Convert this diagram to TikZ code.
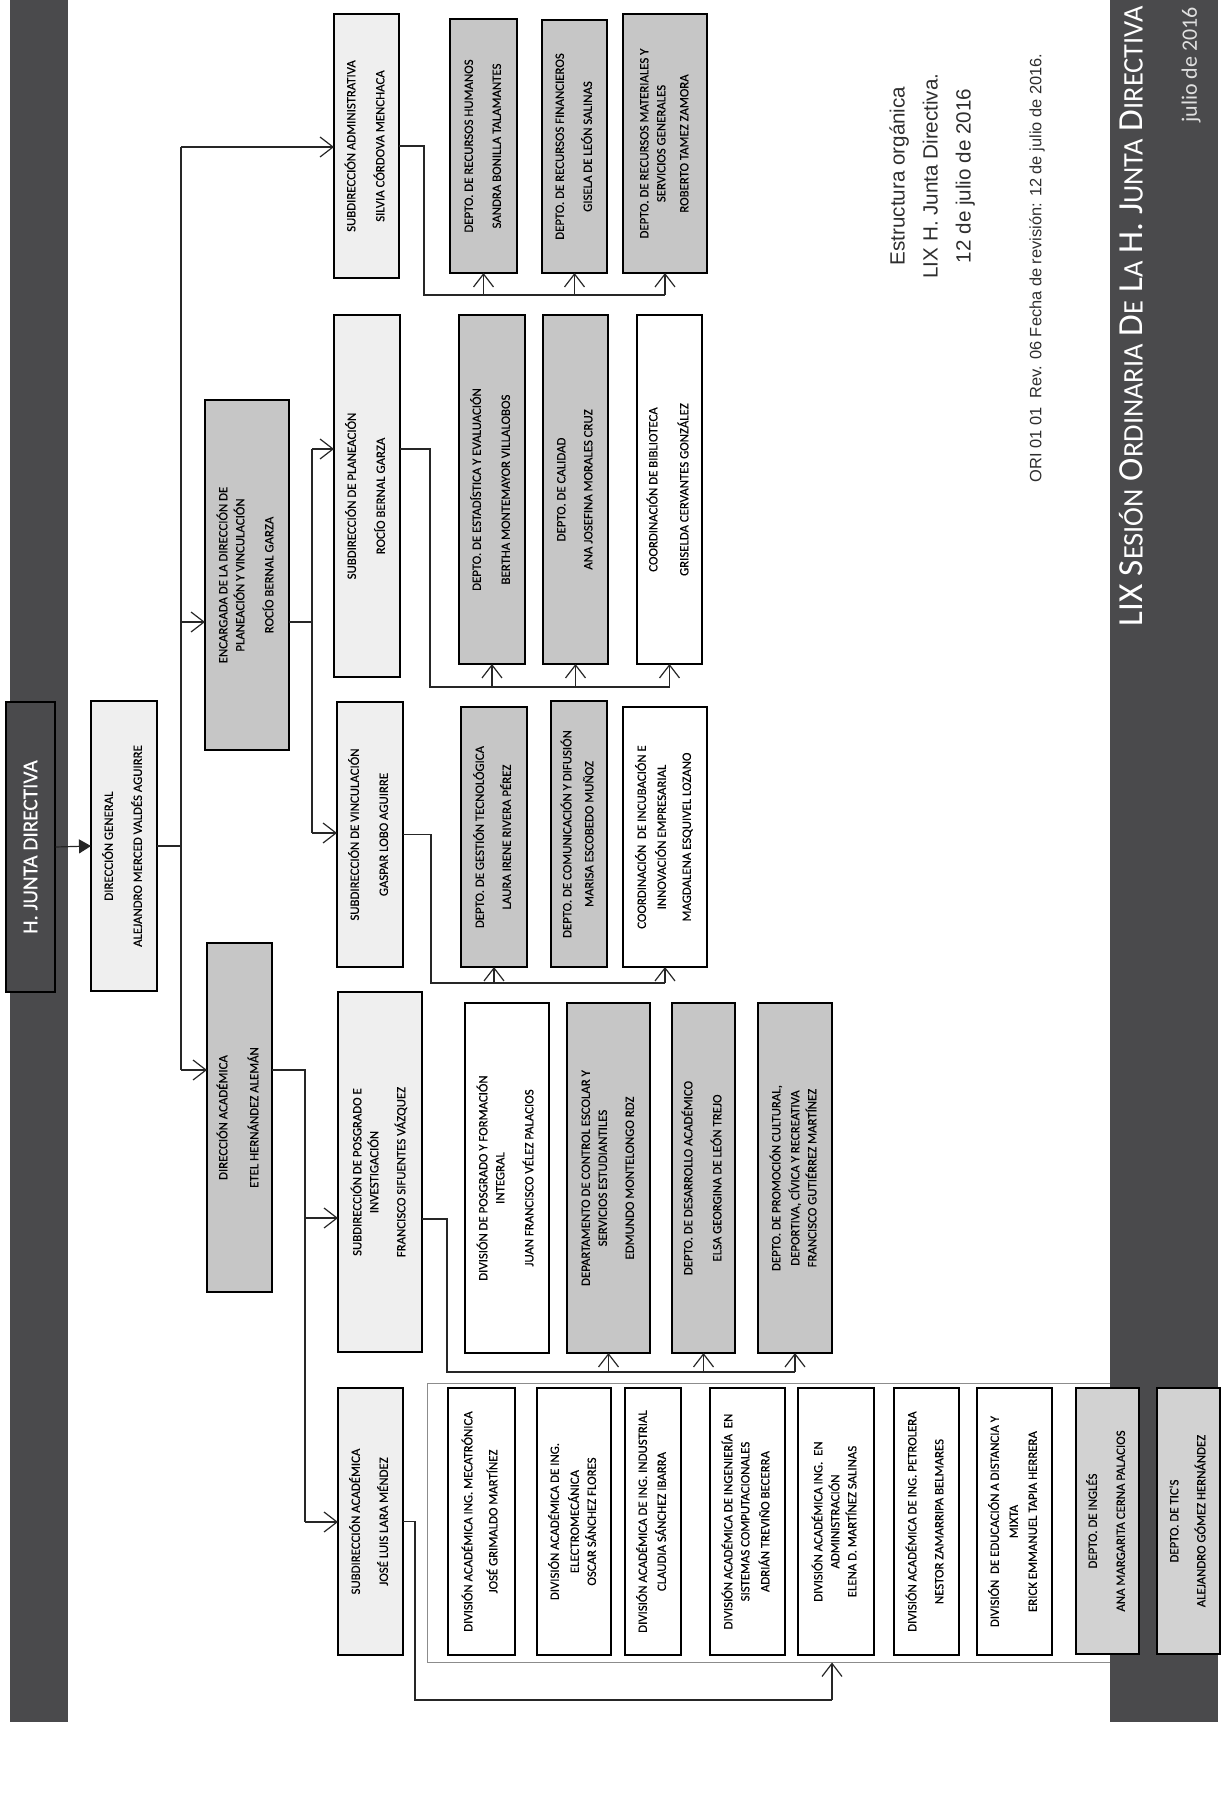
\documentclass[tikz,border=0pt]{standalone}
\usepackage{fontspec}
\setmainfont{Carlito}
\newfontfamily\arialf{Liberation Sans}
\newfontfamily\boxf[FakeBold=0.35]{Carlito}
\usetikzlibrary{arrows.meta,calc}
\definecolor{bargray}{HTML}{4A4A4C}
\definecolor{boxgray}{HTML}{C6C6C6}
\definecolor{boxlight}{HTML}{EFEFEF}
\definecolor{boxmid}{HTML}{D2D2D2}
\definecolor{txtgray}{HTML}{2E2E2E}
\newcommand\bxfont{\boxf\fontsize{6.4}{8.5}\selectfont}
\newcommand\obox[7]{%
  \node[#1, minimum width={(#5-#3)*0.5pt}, minimum height={(#6-#4)*0.5pt}] (#2)
    at ({(#3+#5)/2},{(#4+#6)/2}) {\rotatebox{90}{\bxfont\begin{tabular}{@{}c@{}}#7\end{tabular}}};}
\newcommand\smcp[1]{{\fontsize{14.5}{16}\selectfont #1}}
\begin{document}
\begin{tikzpicture}[x=0.5pt,y=-0.5pt,
  ob/.style={draw=black, line width=0.8pt, inner sep=0pt, outer sep=0pt, text=black},
  gr/.style={ob, fill=boxgray},
  lt/.style={ob, fill=boxlight},
  wh/.style={ob, fill=white},
  md/.style={ob, fill=boxmid},
  ln/.style={line width=0.6pt, draw=black!85},
  arr/.style={ln, -{Straight Barb[length=6.5pt,width=10pt]}}]
\useasboundingbox (0,0) rectangle (1223,1818);
\fill[white] (0,0) rectangle (1223,1818);

% container of academic divisions
\node[draw=black!45, line width=0.5pt, minimum width={(1115-427)*0.5pt}, minimum height={(1662-1383)*0.5pt}, inner sep=0pt] (cont) at ({(427+1115)/2},{(1383+1662)/2}) {};

% side bars
\fill[bargray] (10,0) rectangle (68,1722);
\fill[bargray] (1110,0) rectangle (1218,1722);

% H. Junta Directiva
\node[draw=black, line width=0.6pt, fill=bargray, text=white, inner sep=0pt,
  minimum width={(55-6)*0.5pt}, minimum height={(992-702)*0.5pt}] (hj) at (30.5,847)
  {\rotatebox{90}{\boxf\fontsize{10.6}{12}\selectfont H. JUNTA DIRECTIVA}};

% level 1-2
\obox{lt}{dg}{91}{701}{157}{991}{DIRECCIÓN GENERAL\\[6pt]ALEJANDRO MERCED VALDÉS AGUIRRE}
\obox{gr}{enc}{205}{400}{289}{750}{ENCARGADA DE LA DIRECCIÓN DE\\PLANEACIÓN Y VINCULACIÓN\\[6pt]ROCÍO BERNAL GARZA}
\obox{gr}{dac}{207}{943}{272}{1292}{DIRECCIÓN ACADÉMICA\\[7pt]ETEL HERNÁNDEZ ALEMÁN}

% subdirecciones
\obox{lt}{sadm}{334}{14}{399}{278}{SUBDIRECCIÓN ADMINISTRATIVA\\[6pt]SILVIA CÓRDOVA MENCHACA}
\obox{lt}{spla}{334}{315}{400}{677}{SUBDIRECCIÓN DE PLANEACIÓN\\[6pt]ROCÍO BERNAL GARZA}
\obox{lt}{svin}{337}{702}{403}{967}{SUBDIRECCIÓN DE VINCULACIÓN\\[6pt]GASPAR LOBO AGUIRRE}
\obox{lt}{spos}{338}{992}{422}{1352}{SUBDIRECCIÓN DE POSGRADO E\\INVESTIGACIÓN\\[5pt]FRANCISCO SIFUENTES VÁZQUEZ}
\obox{lt}{sac}{338}{1388}{403}{1655}{SUBDIRECCIÓN ACADÉMICA\\[5.5pt]JOSÉ LUIS LARA MÉNDEZ}

% administrativa
\obox{gr}{rh}{450}{19}{517}{273}{DEPTO. DE RECURSOS HUMANOS\\[5.5pt]SANDRA BONILLA TALAMANTES}
\obox{gr}{rf}{542}{20}{607}{273}{DEPTO. DE RECURSOS FINANCIEROS\\[5.5pt]GISELA DE LEÓN SALINAS}
\obox{gr}{rm}{623}{14}{707}{273}{DEPTO. DE RECURSOS MATERIALES Y\\SERVICIOS GENERALES\\[3pt]ROBERTO TAMEZ ZAMORA}

% planeacion
\obox{gr}{est}{459}{315}{525}{664}{DEPTO. DE ESTADÍSTICA Y EVALUACIÓN\\[6pt]BERTHA MONTEMAYOR VILLALOBOS}
\obox{gr}{cal}{543}{315}{608}{664}{DEPTO. DE CALIDAD\\[5pt]ANA JOSEFINA MORALES CRUZ}
\obox{wh}{bib}{637}{315}{702}{664}{COORDINACIÓN DE BIBLIOTECA\\[7pt]GRISELDA CERVANTES GONZÁLEZ}

% vinculacion
\obox{gr}{ges}{461}{707}{527}{967}{DEPTO. DE GESTIÓN TECNOLÓGICA\\[5pt]LAURA IRENE RIVERA PÉREZ}
\obox{gr}{com}{551}{701}{607}{967}{DEPTO. DE COMUNICACIÓN Y DIFUSIÓN\\[2.5pt]MARISA ESCOBEDO MUÑOZ}
\obox{wh}{inc}{623}{707}{707}{967}{COORDINACIÓN\ \ DE INCUBACIÓN E\\[1.5pt]INNOVACIÓN EMPRESARIAL\\[4pt]MAGDALENA ESQUIVEL LOZANO}

% posgrado
\obox{wh}{dpos}{465}{1003}{549}{1353}{DIVISIÓN DE POSGRADO Y FORMACIÓN\\INTEGRAL\\[6pt]JUAN FRANCISCO VÉLEZ PALACIOS}
\obox{gr}{ces}{567}{1003}{650}{1353}{DEPARTAMENTO DE CONTROL ESCOLAR Y\\SERVICIOS ESTUDIANTILES\\[5pt]EDMUNDO MONTELONGO RDZ}
\obox{gr}{dea}{672}{1003}{735}{1353}{DEPTO. DE DESARROLLO ACADÉMICO\\[6pt]ELSA GEORGINA DE LEÓN TREJO}
\obox{gr}{pro}{758}{1003}{832}{1353}{DEPTO. DE PROMOCIÓN CULTURAL,\\[1pt]DEPORTIVA, CÍVICA Y RECREATIVA\\FRANCISCO GUTIÉRREZ MARTÍNEZ}

% divisiones academicas
\obox{wh}{d1}{448}{1388}{515}{1655}{DIVISIÓN ACADÉMICA ING. MECATRÓNICA\\[4pt]JOSÉ GRIMALDO MARTÍNEZ}
\obox{wh}{d2}{537}{1388}{611}{1655}{DIVISIÓN ACADÉMICA DE ING.\\[1.5pt]ELECTROMECÁNICA\\OSCAR SÁNCHEZ FLORES}
\obox{wh}{d3}{625}{1388}{681}{1655}{DIVISIÓN ACADÉMICA DE ING. INDUSTRIAL\\[1pt]CLAUDIA SÁNCHEZ IBARRA}
\obox{wh}{d4}{710}{1388}{785}{1655}{DIVISIÓN ACADÉMICA DE INGENIERÍA\ \ EN\\SISTEMAS COMPUTACIONALES\\[1.5pt]ADRIÁN TREVIÑO BECERRA}
\obox{wh}{d5}{798}{1388}{874}{1655}{DIVISIÓN ACADÉMICA ING.\ \ EN\\ADMINISTRACIÓN\\ELENA D. MARTÍNEZ SALINAS}
\obox{wh}{d6}{894}{1388}{959}{1655}{DIVISIÓN ACADÉMICA DE ING. PETROLERA\\[5pt]NESTOR ZAMARRIPA BELMARES}
\obox{wh}{d7}{977}{1388}{1052}{1655}{DIVISIÓN\ \ DE EDUCACIÓN A DISTANCIA Y\\[1pt]MIXTA\\[1pt]ERICK EMMANUEL TAPIA HERRERA}
\obox{md}{ing}{1076}{1388}{1139}{1654}{DEPTO. DE INGLÉS\\[5.5pt]ANA MARGARITA CERNA PALACIOS}
\obox{md}{tic}{1157}{1388}{1220}{1654}{DEPTO. DE TIC'S\\[5pt]ALEJANDRO GÓMEZ HERNÁNDEZ}

% connectors
\draw[ln, -{Triangle[length=6pt,width=7pt]}] (hj.east) -- (dg.west);

\coordinate (t1) at (181,147);
\coordinate (t2) at (181,622);
\coordinate (t3) at (181,1070);
\draw[ln] (dg.east) -- (dg.east -| t1);
\draw[ln] (t1) -- (t3);
\draw[arr] (t1) -- (sadm.west |- t1);
\draw[arr] (t2) -- (enc.west |- t2);
\draw[arr] (t3) -- (dac.west |- t3);

\coordinate (e1) at (312,449);
\coordinate (e2) at (312,833);
\draw[ln] (enc.east |- t2) -- (t2 -| e1);
\draw[ln] (e1) -- (e2);
\draw[arr] (e1) -- (spla.west |- e1);
\draw[arr] (e2) -- (svin.west |- e2);

\coordinate (a1) at (305,1218);
\coordinate (a2) at (305,1522);
\draw[ln] (dac.east |- t3) -- (t3 -| a1) -- (a2);
\draw[arr] (a1) -- (spos.west |- a1);
\draw[arr] (a2) -- (sac.west |- a2);

\coordinate (s1) at (424,295);
\draw[ln] (sadm.east) -| (s1) -- (rm.south |- s1);
\foreach \n in {rh,rf,rm} \draw[arr] (\n.south |- s1) -- (\n.south);

\coordinate (p0) at (430,449);
\coordinate (p1) at (430,687);
\draw[ln] (spla.east |- p0) -- (p0) -- (p1) -- (bib.south |- p1);
\foreach \n in {est,cal,bib} \draw[arr] (\n.south |- p1) -- (\n.south);

\coordinate (v1) at (431,983);
\draw[ln] (svin.east) -| (v1) -- (inc.south |- v1);
\foreach \n in {ges,inc} \draw[arr] (\n.south |- v1) -- (\n.south);

\coordinate (q0) at (447,1219);
\coordinate (q1) at (447,1372);
\draw[ln, line width=1pt] (spos.east |- q0) -- (q0) -- (q1) -- (pro.south |- q1);
\foreach \n in {ces,dea,pro} \draw[arr] (\n.south |- q1) -- (\n.south);

\coordinate (r0) at (415,1700);
\coordinate (r1) at (832,1700);
\draw[ln] (sac.east) -| (r0) -- (r1);
\draw[arr] (r1) -- (r1 |- cont.south);

% texts
\node[text=txtgray, inner sep=0pt] (tit) at (931,176) {\rotatebox{90}{\arialf\fontsize{10.3}{16.5}\selectfont\begin{tabular}{@{}c@{}}Estructura orgánica\\LIX H. Junta Directiva.\\12 de julio de 2016\end{tabular}}};
\node[text=txtgray, inner sep=0pt] (ori) at (1037,268) {\rotatebox{90}{\arialf\fontsize{8.2}{10}\selectfont ORI 01 01\ \ Rev. 06 Fecha de revisión: 12 de julio de 2016.}};
\node[text=white, inner sep=0pt] (ban) at (1131,316) {\rotatebox{90}{\resizebox{310pt}{!}{\fontsize{18}{20}\selectfont LIX S\smcp{ESIÓN} O\smcp{RDINARIA} D\smcp{E} L\smcp{A} H. J\smcp{UNTA} D\smcp{IRECTIVA}}}};
\node[text=white!88!black, inner sep=0pt] (jul) at (1191,65) {\rotatebox{90}{\fontsize{11}{13}\selectfont julio de 2016}};
\end{tikzpicture}
\end{document}
